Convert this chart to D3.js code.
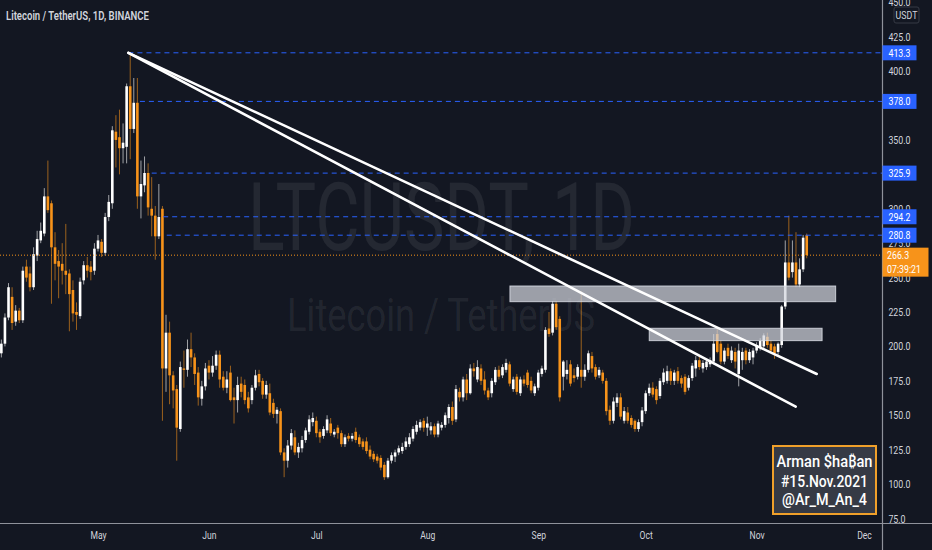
<!DOCTYPE html>
<html>
<head>
<meta charset="utf-8">
<script src="https://cdn.jsdelivr.net/npm/d3@7"></script>
<style>
  html, body { margin: 0; padding: 0; background: #131722; }
  svg { display: block; }
  text { font-family: Roboto, "Noto Sans", "DejaVu Sans", sans-serif; }
</style>
</head>
<body>
<svg id="chart"></svg>
<script>
/******************************************************
 * LTCUSDT 1D snapshot (TradingView style)
 * candles + level lines + trendlines + zones
 ******************************************************/

const width = 932, height = 550;

/********* 1) Data **********/
// first daily bar, the rest follow day by day
const firstDay = "2021-04-04";

const opens = [
  195,202,221,236,218,226,219,258,253,243,
  266,277,282,309,304,272,262,260,255,253,
  241,225,222,248,259,258,255,271,276,268,
  294,304,356,352,344,345,389,358,377,309,
  317,326,300,295,280,300,184,210,179,169,
  140,184,183,198,192,181,162,171,186,181,
  186,194,178,170,181,163,161,173,172,163,
  161,170,180,175,165,166,159,151,153,123,
  117,128,134,123,126,132,138,145,146,138,
  135,139,144,136,141,137,129,135,133,138,
  134,131,131,125,122,120,119,114,105,117,
  120,123,124,127,129,133,138,141,146,141,
  139,142,136,141,143,148,156,147,167,163,
  176,166,184,176,184,176,168,166,174,183,
  179,183,187,169,178,166,176,181,175,166,
  170,180,183,213,210,231,220,178,180,187,
  179,178,183,178,183,193,185,179,181,175,
  154,146,159,163,146,152,148,146,140,145,
  153,166,170,169,164,174,175,182,175,182,
  177,178,170,177,184,190,184,185,187,189,
  209,202,189,199,190,196,180,190,197,190,
  192,197,199,200,207,202,200,196,201,229,
  261,254,261,245,256,280.8
];
const highs = [
  205,224,246,243,230,228,258,263,258,272,
  284,290,315,335,306,283,270,275,289,256,
  248,232,250,262,265,262,275,281,278,297,
  310,360,368,372,362,391,413.3,395,395,335,
  338,333,323,302,318,302,223,218,182,172,
  189,197,205,210,195,185,175,188,190,193,
  197,197,182,182,186,170,178,178,176,167,
  172,183,183,177,175,173,162,156,155,126,
  132,140,139,130,135,141,150,152,149,140,
  142,150,148,140,143,139,136,137,137,141,
  136,133,134,128,124,122,121,116,119,123,
  125,128,130,134,137,142,146,147,148,149,
  145,144,146,145,152,158,160,172,170,178,
  180,187,188,190,187,182,170,177,185,186,
  187,191,189,178,180,178,179,183,178,173,
  183,186,214,225,233,233,222,190,190,190,
  184,187,240,187,197,196,187,185,183,177,
  157,163,166,166,156,156,150,147,147,156,
  168,173,174,171,177,184,186,184,183,185,
  179,180,179,188,193,193,190,191,192,209,
  213,204,199,202,200,199,202,199,199,198,
  199,203,206,209.5,210,204,202,203,230,277,
  295,277,283,264,281,282
];
const lows = [
  192,200,219,212,215,217,217,247,240,241,
  262,275,280,297,231,248,235,245,238,211,
  218,212,220,245,250,248,252,269,265,266,
  291,300,330,325,333,333,336,355,300,293,
  312,295,280,263,278,146,167,158,155,117,
  138,170,178,185,172,157,157,168,176,178,
  183,170,168,166,160,144,152,163,158,152,
  158,168,171,162,162,150,148,144,121,105,
  112,125,121,119,123,130,136,142,134,130,
  133,137,135,134,133,127,127,131,131,130,
  127,125,122,118,116,115,110,103,104,115,
  116,121,122,125,127,131,136,139,138,135,
  136,134,134,139,141,144,143,145,160,160,
  161,165,178,174,172,165,161,163,172,176,
  177,181,171,167,165,164,171,170,166,164,
  168,178,181,207,208,212,160,168,176,171,
  174,176,170,175,181,181,176,177,173,150,
  143,144,156,147,144,144,141,138,138,142,
  151,164,163,158,162,172,173,172,172,173,
  170,165,168,175,178,183,181,183,185,187,
  195,187,187,191,188,184,171,183,187,188,
  187,195,197,198,199,195,191,194,199,227,
  248,250,243,243,254,264
];
const closes = [
  202,221,243,217,226,219,255,250,243,267,
  278,284,309,299,272,260,258,255,252,238,
  224,223,247,259,255,254,271,277,268,294,
  305,357,350,344,348,389,358,377,309,318,
  326,301,295,280,294,184,210,179,168,141,
  185,183,198,192,180,163,171,184,181,186,
  194,176,170,176,161,161,172,167,161,155,
  170,179,174,165,172,152,151,154,123,117,
  128,137,123,127,132,139,147,148,137,134,
  140,147,137,138,137,129,134,133,135,132,
  129,127,124,120,118,117,112,105,117,121,
  123,126,127,131,134,140,143,145,141,144,
  142,136,144,143,150,156,146,169,163,176,
  166,184,182,185,175,168,163,175,183,178,
  185,188,173,176,167,176,173,172,168,171,
  181,184,212,209,231,214,163,189,183,173,
  177,185,178,183,195,184,178,183,175,153,
  146,160,163,149,153,146,143,140,145,153.5,
  166,170,165,161,175,181,182,175,181,175,
  173,167,177,186,190,185,188,189,190,202,
  196,189,197,193,197,189,197,196,190,196,
  197,201,204,208,201,197,195,202,229,261,
  250,261,245,256,279,266.3
];

// price axis ticks (375 sits under the 378.0 tag, so TV drops it)
const priceTicks = [75,100,125,150,175,200,225,250,275,300,325,350,400,425,450];

// horizontal levels (blue dashed) : price + day offset where the line starts
const levelPrices = [413.3, 378.0, 325.9, 294.2, 280.8];
const levelStartDay = [35.5, 38.7, 42.0, 45.2, 46.2];

// trendlines: [startDay, startPrice] -> [endDay, endPrice]
const trendStart = [[35.5, 413.3], [35.5, 413.3]];
const trendEnd   = [[227.8, 180.0], [221.9, 156.2]];

// grey zones: [fromDay, toDay], [low, high]
const zoneDays   = [[142.1, 233.1], [181.0, 229.3]];
const zonePrices = [[232.5, 243.9], [204.2, 213.2]];

const lastPrice = 266.3;
const countdown = "07:39:21";
const signLines = ["Arman $ha\u20BFan", "#15.Nov.2021", "@Ar_M_An_4"];
const signWidths = [96, 87, 85];

/********* 2) Scales **********/
const plotW = 882, plotH = 523;
const day0 = d3.utcParse("%Y-%m-%d")(firstDay);
const dayAt = d => d3.utcHour.offset(day0, Math.round(d * 24));
const dates = closes.map((_, i) => d3.utcDay.offset(day0, i));

const x = d3.scaleUtc()
  .domain([new Date(Date.UTC(2021, 4, 1)), new Date(Date.UTC(2021, 11, 1))])
  .range([98, 864]);
const y = d3.scaleLinear().domain([75, 425]).range([518.5, 36.7]);

const svg = d3.select("#chart")
  .attr("width", width).attr("height", height)
  .attr("viewBox", [0, 0, width, height]);

svg.append("rect").attr("width", width).attr("height", height).attr("fill", "#131722");

const defs = svg.append("defs");
defs.append("clipPath").attr("id", "plotClip")
  .append("rect").attr("x", 0).attr("y", 0).attr("width", plotW).attr("height", plotH);

const plot = svg.append("g").attr("clip-path", "url(#plotClip)");

/********* 3) Watermark **********/
plot.append("text")
  .attr("x", 248).attr("y", 250)
  .attr("font-size", 94)
  .attr("textLength", 387).attr("lengthAdjust", "spacingAndGlyphs")
  .attr("fill", "#ffffff").attr("fill-opacity", 0.075)
  .text("LTCUSDT, 1D");
plot.append("text")
  .attr("x", 287).attr("y", 331)
  .attr("font-size", 46)
  .attr("textLength", 308).attr("lengthAdjust", "spacingAndGlyphs")
  .attr("fill", "#ffffff").attr("fill-opacity", 0.075)
  .text("Litecoin / TetherUS");

/********* 4) Candles **********/
const upCol = "#ffffff", dnCol = "#f7931a";
const bw = 2.6;
const candles = dates.map((d, i) => ({ d, o: opens[i], h: highs[i], l: lows[i], c: closes[i] }));

const cg = plot.append("g");
cg.selectAll("line.wick").data(candles).join("line")
  .attr("class", "wick")
  .attr("x1", d => x(d.d)).attr("x2", d => x(d.d))
  .attr("y1", d => y(d.h)).attr("y2", d => y(d.l))
  .attr("stroke", d => d.c >= d.o ? upCol : dnCol)
  .attr("stroke-opacity", 0.6)
  .attr("stroke-width", 1);
cg.selectAll("rect.body").data(candles).join("rect")
  .attr("class", "body")
  .attr("x", d => x(d.d) - bw / 2)
  .attr("width", bw)
  .attr("y", d => y(Math.max(d.o, d.c)))
  .attr("height", d => Math.max(1, Math.abs(y(d.o) - y(d.c))))
  .attr("fill", d => d.c >= d.o ? upCol : dnCol);

/********* 5) Levels, last price **********/
const lg = plot.append("g");
levelPrices.forEach((p, i) => {
  lg.append("line")
    .attr("x1", x(dayAt(levelStartDay[i]))).attr("x2", plotW)
    .attr("y1", y(p)).attr("y2", y(p))
    .attr("stroke", "#2962ff").attr("stroke-width", 1)
    .attr("stroke-dasharray", "5,4");
});
lg.append("line")
  .attr("x1", 0).attr("x2", plotW)
  .attr("y1", y(lastPrice)).attr("y2", y(lastPrice))
  .attr("stroke", "#f7931a").attr("stroke-width", 1)
  .attr("stroke-dasharray", "1,2");

/********* 6) Zones + trendlines **********/
const zg = plot.append("g");
zoneDays.forEach((dd, i) => {
  const [lo, hi] = zonePrices[i];
  zg.append("rect")
    .attr("x", x(dayAt(dd[0])))
    .attr("width", x(dayAt(dd[1])) - x(dayAt(dd[0])))
    .attr("y", y(hi))
    .attr("height", y(lo) - y(hi))
    .attr("fill", "#d1d4dc").attr("fill-opacity", 0.72)
    .attr("stroke", "#e0e3eb").attr("stroke-opacity", 0.8).attr("stroke-width", 1);
});
trendStart.forEach((s, i) => {
  const e = trendEnd[i];
  zg.append("line")
    .attr("x1", x(dayAt(s[0]))).attr("y1", y(s[1]))
    .attr("x2", x(dayAt(e[0]))).attr("y2", y(e[1]))
    .attr("stroke", "#ffffff").attr("stroke-width", 2.6)
    .attr("stroke-linecap", "round");
});

/********* 7) Axes **********/
const axisCol = "#8f929b", labCol = "#d1d4dc";

const yAxis = svg.append("g")
  .attr("transform", `translate(${plotW},0)`)
  .call(d3.axisRight(y).tickValues(priceTicks).tickSize(0).tickPadding(8)
    .tickFormat(d3.format(".1f")));
yAxis.select(".domain").remove();
yAxis.selectAll("text")
  .attr("fill", labCol).attr("font-size", 11)
  .attr("font-family", "Roboto, sans-serif")
  .attr("transform", "scale(0.8,1)");

const months = d3.utcMonth.range(new Date(Date.UTC(2021, 4, 1)), new Date(Date.UTC(2021, 11, 2)));
const xAxis = svg.append("g")
  .attr("transform", `translate(0,${plotH})`)
  .call(d3.axisBottom(x).tickValues(months).tickSize(0).tickPadding(8)
    .tickFormat(d3.utcFormat("%b")));
xAxis.select(".domain").remove();
xAxis.selectAll("text")
  .attr("fill", labCol).attr("font-size", 11)
  .attr("font-family", "Roboto, sans-serif")
  .attr("transform", "scale(0.78,1)");

svg.append("line")
  .attr("x1", 0).attr("x2", width).attr("y1", plotH + 0.5).attr("y2", plotH + 0.5)
  .attr("stroke", axisCol).attr("stroke-width", 1.2);
svg.append("line")
  .attr("x1", plotW + 0.5).attr("x2", plotW + 0.5).attr("y1", 0).attr("y2", height)
  .attr("stroke", axisCol).attr("stroke-width", 1.2);

/********* 8) Price tags on the axis **********/
const pl = svg.append("g");
levelPrices.forEach(p => {
  const yy = y(p);
  pl.append("rect")
    .attr("x", plotW + 0.5).attr("y", yy - 7.5)
    .attr("width", 34).attr("height", 15)
    .attr("fill", "#2962ff");
  pl.append("text")
    .attr("transform", `translate(${plotW + 17.5},${yy + 4}) scale(0.8,1)`)
    .attr("text-anchor", "middle")
    .attr("font-size", 11).attr("fill", "#ffffff")
    .text(d3.format(".1f")(p));
});
const ly = y(lastPrice);
pl.append("rect")
  .attr("x", plotW + 0.5).attr("y", ly - 7.5)
  .attr("width", 46).attr("height", 29)
  .attr("fill", "#f7931a");
pl.append("text")
  .attr("transform", `translate(${plotW + 5},${ly + 4}) scale(0.8,1)`)
  .attr("font-size", 11).attr("fill", "#ffffff")
  .text(d3.format(".1f")(lastPrice));
pl.append("text")
  .attr("transform", `translate(${plotW + 5},${ly + 17.5}) scale(0.8,1)`)
  .attr("font-size", 11).attr("fill", "#ffffff")
  .text(countdown);

// currency tag
pl.append("rect")
  .attr("x", 894).attr("y", 7).attr("width", 25).attr("height", 16).attr("rx", 2)
  .attr("fill", "#131722").attr("stroke", "#363a45");
pl.append("text")
  .attr("transform", "translate(906.5,19) scale(0.8,1)")
  .attr("text-anchor", "middle")
  .attr("font-size", 11).attr("fill", labCol)
  .text("USDT");

/********* 9) Title + signature **********/
svg.append("text")
  .attr("x", 6).attr("y", 20)
  .attr("font-size", 13).attr("font-weight", 600)
  .attr("textLength", 143).attr("lengthAdjust", "spacingAndGlyphs")
  .attr("fill", labCol)
  .text("Litecoin / TetherUS, 1D, BINANCE");

const sg = svg.append("g");
sg.append("rect")
  .attr("x", 773).attr("y", 446).attr("width", 103).attr("height", 68)
  .attr("fill", "#363a45").attr("stroke", "#f0a02a").attr("stroke-width", 2);
signLines.forEach((t, i) => {
  sg.append("text")
    .attr("x", 824.5).attr("y", [467, 486.5, 505][i])
    .attr("text-anchor", "middle")
    .attr("font-size", 17).attr("font-weight", 500)
    .attr("font-family", "'Noto Sans', 'DejaVu Sans', sans-serif")
    .attr("textLength", signWidths[i]).attr("lengthAdjust", "spacingAndGlyphs")
    .attr("fill", "#ffffff")
    .text(t);
});
</script>
</body>
</html>
